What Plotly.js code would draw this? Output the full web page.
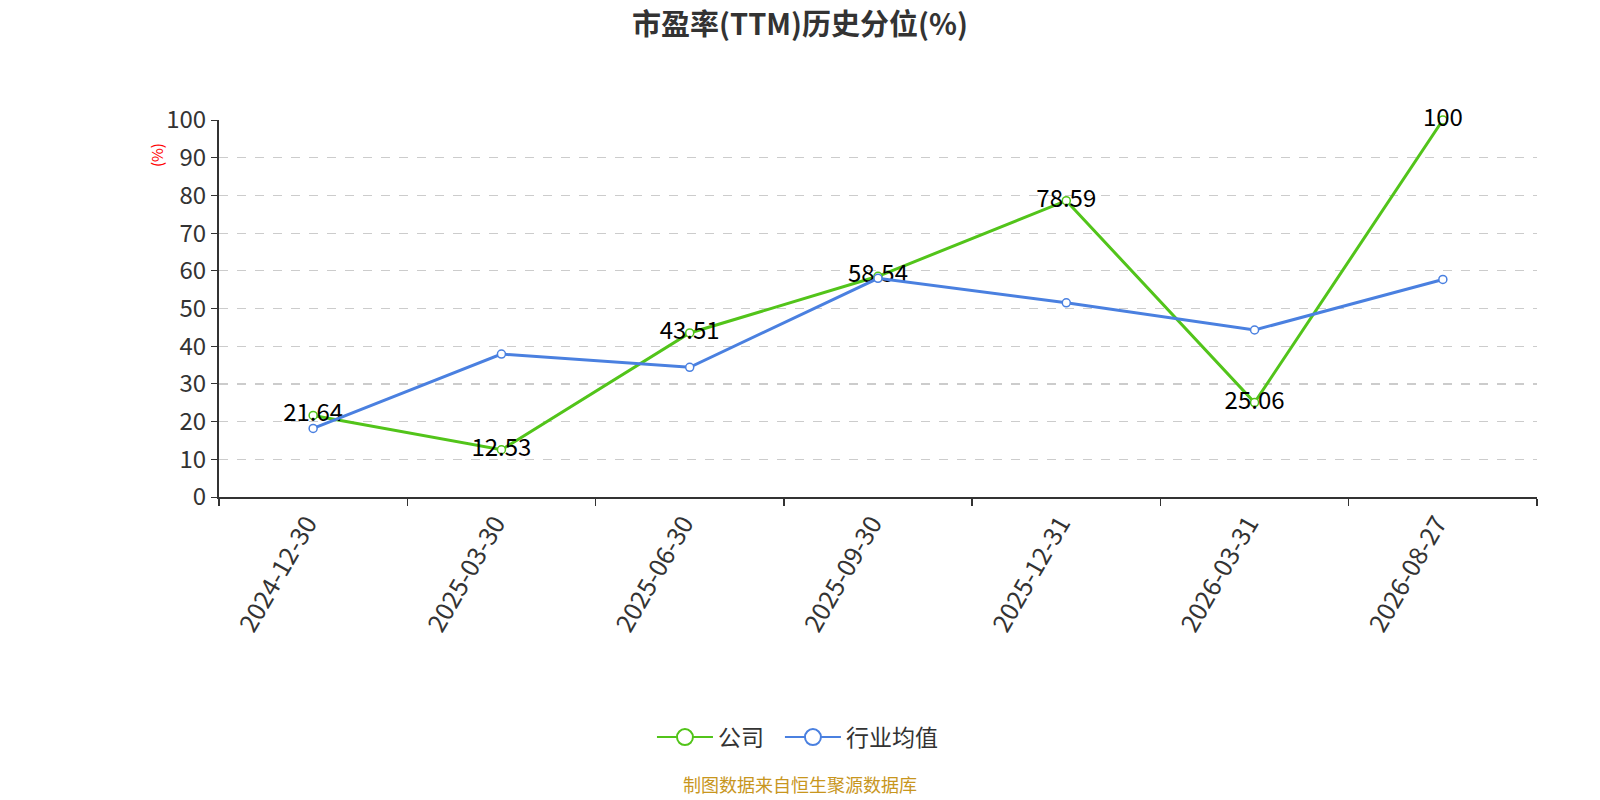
<!DOCTYPE html>
<html>
<head>
<meta charset="utf-8">
<script src="https://cdn.plot.ly/plotly-3.0.1.min.js"></script>
<style>
  html, body { margin: 0; padding: 0; background: #fff; }
  #chart { width: 1600px; height: 800px; }
</style>
</head>
<body>
<div id="chart"></div>
<script>
// data
var dates = ['2024-12-30', '2025-03-30', '2025-06-30', '2025-09-30', '2025-12-31', '2026-03-31', '2026-08-27'];
var companyValues = [21.64, 12.53, 43.51, 58.54, 78.59, 25.06, 100];
var industryValues = [18.2, 37.9, 34.4, 58.0, 51.5, 44.3, 57.7];
var seriesNames = ['公司', '行业均值'];
var seriesColors = ['#52c41a', '#4a80e0'];

var fontFamily = '"Noto Sans CJK SC", "Noto Sans", sans-serif';

var company = {
  x: dates,
  y: companyValues,
  name: seriesNames[0],
  type: 'scatter',
  mode: 'lines+markers+text',
  text: companyValues.map(String),
  textposition: 'middle center',
  textfont: {size: 24, color: '#000', family: fontFamily},
  line: {color: seriesColors[0], width: 3},
  marker: {symbol: 'circle', size: 8, color: '#fff', line: {color: seriesColors[0], width: 1.5}},
  cliponaxis: false,
  showlegend: false,
  hoverinfo: 'none'
};

var industry = {
  x: dates,
  y: industryValues,
  name: seriesNames[1],
  type: 'scatter',
  mode: 'lines+markers',
  line: {color: seriesColors[1], width: 3},
  marker: {symbol: 'circle', size: 8, color: '#fff', line: {color: seriesColors[1], width: 1.5}},
  cliponaxis: false,
  showlegend: false,
  hoverinfo: 'none'
};

// legend-only entries, bigger symbols like the original legend; one legend box each
var legendIds = ['legend', 'legend2'];
var legendTraces = seriesNames.map(function (name, i) {
  return {
    x: [null],
    y: [null],
    name: name,
    legend: legendIds[i],
    type: 'scatter',
    mode: 'lines+markers',
    line: {color: seriesColors[i], width: 2},
    marker: {symbol: 'circle', size: 20, color: '#fff', line: {color: seriesColors[i], width: 2}},
    hoverinfo: 'none'
  };
});

var legendStyle = function (x) {
  return {
    orientation: 'h',
    x: x, xanchor: 'left',
    y: -0.637, yanchor: 'middle',
    itemwidth: 56,
    bgcolor: 'rgba(0,0,0,0)',
    font: {size: 23, color: '#333'}
  };
};

var layout = {
  width: 1600,
  height: 800,
  margin: {l: 219, r: 63, t: 120, b: 303},
  paper_bgcolor: '#fff',
  plot_bgcolor: '#fff',
  font: {family: fontFamily, color: '#333'},
  title: {
    text: '<b>市盈率(TTM)历史分位(%)</b>',
    font: {size: 29, color: '#333', family: fontFamily},
    x: 0.5, xanchor: 'center',
    y: 0.969, yanchor: 'middle'
  },
  xaxis: {
    type: 'category',
    range: [-0.5, dates.length - 0.5],
    tickson: 'boundaries',
    ticks: 'outside',
    ticklen: 7,
    tickcolor: '#333',
    tickwidth: 1.5,
    showline: true,
    linecolor: '#333',
    linewidth: 2,
    showgrid: false,
    zeroline: false,
    tickangle: -60,
    ticklabelshift: -6,
    tickfont: {size: 25, color: '#333'}
  },
  yaxis: {
    range: [0, 100],
    dtick: 10,
    ticks: 'outside',
    ticklen: 6,
    tickcolor: '#333',
    showline: true,
    linecolor: '#333',
    linewidth: 2,
    showgrid: true,
    gridcolor: '#cccccc',
    griddash: 'dash',
    gridwidth: 1.2,
    zeroline: false,
    tickfont: {size: 24, color: '#333'}
  },
  showlegend: true,
  legend: legendStyle(0.3285),
  legend2: legendStyle(0.4256),
  annotations: [
    {
      text: '(%)',
      xref: 'paper', yref: 'paper',
      x: 0, y: 0.907,
      xanchor: 'center', yanchor: 'middle',
      xshift: -63,
      showarrow: false,
      textangle: -90,
      font: {size: 15, color: '#ff0000'}
    },
    {
      text: '制图数据来自恒生聚源数据库',
      xref: 'paper', yref: 'paper',
      x: 0.4408, y: -0.762,
      xanchor: 'center', yanchor: 'middle',
      showarrow: false,
      font: {size: 18, color: '#c8961e'}
    }
  ]
};

var config = {displayModeBar: false, staticPlot: true};

Plotly.newPlot('chart', [company, industry].concat(legendTraces), layout, config);
</script>
</body>
</html>
